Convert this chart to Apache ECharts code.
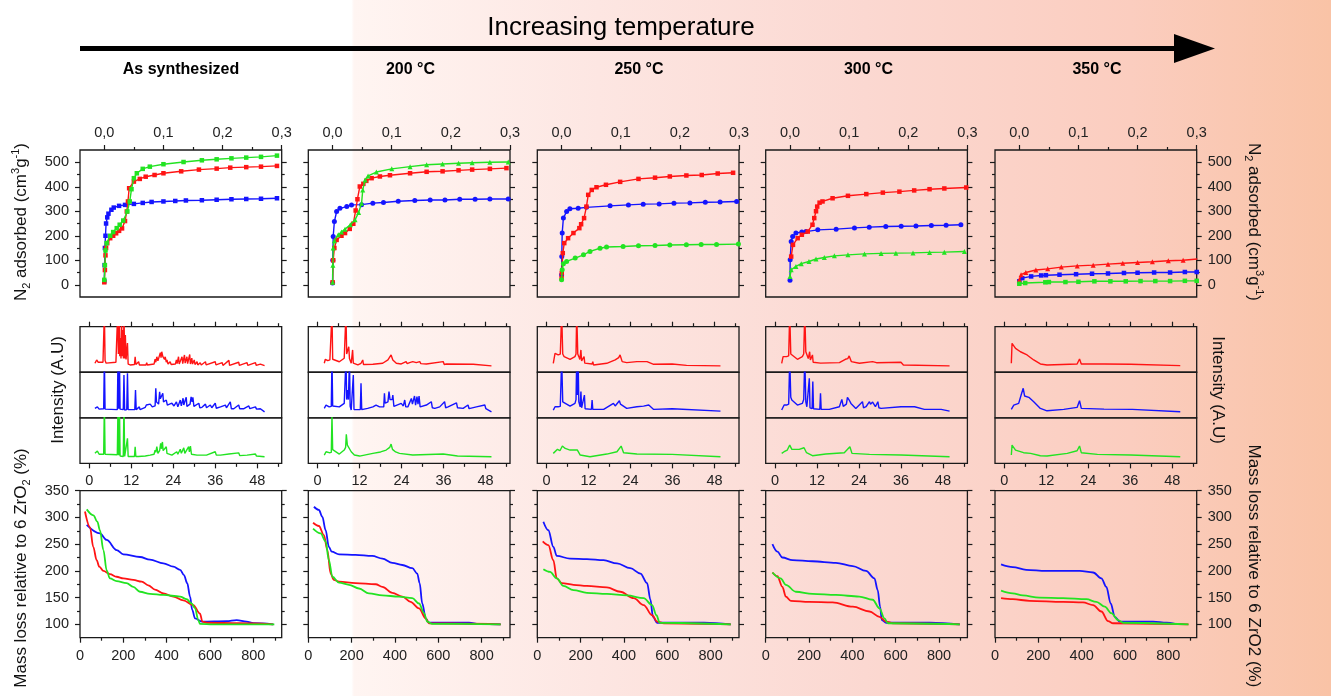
<!DOCTYPE html>
<html><head><meta charset="utf-8">
<script src="https://cdn.jsdelivr.net/npm/echarts@6/dist/echarts.min.js"></script>
<style>html,body{margin:0;padding:0;background:#fff}#c{width:1331px;height:696px}</style>
</head><body><div id="c"></div>
<script>
// ---------------- DATA ----------------
const columnTitles = ['As synthesized', '200 °C', '250 °C', '300 °C', '350 °C'];
const isoXTicks = [0, 0.1, 0.2, 0.3];
const isoXMinor = [0.05, 0.15, 0.25];
const isoYTicks = [0, 100, 200, 300, 400, 500];
const isoYMinor = [50, 150, 250, 350, 450];
const xrdTicks = [0, 12, 24, 36, 48];
const xrdMinor = [6, 18, 30, 42, 54];
const tgaXTicks = [0, 200, 400, 600, 800];
const tgaXMinor = [100, 300, 500, 700, 900];
const tgaYTicks = [100, 150, 200, 250, 300, 350];
const tgaYMinor = [125, 175, 225, 275, 325];

// N2 isotherms: [P/P0, volume] pairs
const isoRedAS = [0,10, 0.001,60, 0.002,120, 0.003,150, 0.005,170, 0.01,190, 0.015,200, 0.02,210, 0.025,220, 0.03,230, 0.035,260, 0.038,299, 0.04,340, 0.042,394, 0.05,421, 0.06,432, 0.07,441, 0.085,448, 0.1,455, 0.13,463, 0.16,470, 0.19,474, 0.213,478, 0.24,480, 0.265,482, 0.292,485];
const isoBlueAS = [0,14, 0.0005,80, 0.001,150, 0.002,200, 0.003,250, 0.005,275, 0.007,290, 0.012,306, 0.016,315, 0.025,322, 0.035,326, 0.05,330, 0.065,334, 0.08,338, 0.1,340, 0.12,342, 0.138,344, 0.165,345, 0.19,347, 0.215,349, 0.24,350, 0.265,351, 0.292,353];
const isoGreenAS = [0,20, 0.001,80, 0.002,140, 0.004,170, 0.01,200, 0.015,215, 0.021,231, 0.026,245, 0.032,262, 0.039,299, 0.043,340, 0.046,390, 0.05,435, 0.055,455, 0.065,473, 0.077,482, 0.1,492, 0.134,501, 0.165,508, 0.19,512, 0.215,516, 0.24,519, 0.265,522, 0.292,527];
const isoRed200 = [0,10, 0.001,100, 0.003,150, 0.0068,183, 0.015,200, 0.021,211, 0.029,228, 0.035,249, 0.039,303, 0.042,349, 0.046,401, 0.052,412, 0.057,424, 0.066,435, 0.08,442, 0.097,447, 0.131,455, 0.159,461, 0.186,463, 0.213,467, 0.236,470, 0.266,473, 0.294,476];
const isoBlue200 = [0,7, 0.0003,100, 0.001,197, 0.003,258, 0.0068,299, 0.0124,312, 0.024,319, 0.032,326, 0.049,327, 0.068,333, 0.086,336, 0.111,341, 0.139,344, 0.165,346, 0.19,346, 0.215,349, 0.241,349, 0.266,350, 0.297,350];
const isoGreen200 = [0,10, 0.0005,80, 0.001,150, 0.003,180, 0.0096,204, 0.015,215, 0.021,227, 0.03,245, 0.038,265, 0.044,295, 0.049,333, 0.051,387, 0.055,428, 0.06,444, 0.074,460, 0.1,473, 0.131,482, 0.159,490, 0.186,493, 0.213,496, 0.236,498, 0.266,500, 0.297,501];
const isoRed250 = [0,27, 0.0003,48, 0.002,129, 0.0045,170, 0.011,190, 0.02,211, 0.03,231, 0.033,247, 0.038,272, 0.042,319, 0.045,367, 0.051,387, 0.059,398, 0.075,408, 0.099,420, 0.13,432, 0.158,437, 0.183,442, 0.211,446, 0.237,448, 0.264,454, 0.29,457];
const isoBlue250 = [0,41, 0.0003,115, 0.001,211, 0.003,272, 0.0085,299, 0.014,310, 0.028,312, 0.042,316, 0.082,322, 0.113,326, 0.138,329, 0.165,330, 0.19,333, 0.217,334, 0.243,337, 0.268,338, 0.296,340];
const isoGreen250 = [0,20, 0.001,61, 0.003,86, 0.0085,95, 0.023,109, 0.037,122, 0.048,136, 0.065,149, 0.076,154, 0.104,156, 0.13,159, 0.158,160, 0.183,162, 0.211,163, 0.236,164, 0.262,164, 0.299,166];
const isoRed300 = [0.002,115, 0.005,163, 0.013,190, 0.02,204, 0.03,217, 0.038,245, 0.041,272, 0.044,300, 0.046,319, 0.05,335, 0.055,340, 0.072,353, 0.098,363, 0.129,370, 0.157,376, 0.185,380, 0.21,385, 0.236,390, 0.261,393, 0.298,397];
const isoBlue300 = [0,18, 0.0003,102, 0.002,177, 0.0045,197, 0.01,211, 0.02,215, 0.027,217, 0.047,224, 0.078,227, 0.109,232, 0.134,235, 0.162,238, 0.188,239, 0.213,240, 0.239,242, 0.264,243, 0.289,245];
const isoGreen300 = [0,34, 0.002,61, 0.01,75, 0.019,86, 0.032,95, 0.044,105, 0.058,111, 0.075,118, 0.098,122, 0.126,126, 0.154,128, 0.179,129, 0.208,130, 0.236,132, 0.261,133, 0.295,136];
const isoRed350 = [0,20, 0.003,41, 0.011,50, 0.028,60, 0.048,65, 0.071,72, 0.098,77, 0.125,80, 0.15,84, 0.175,88, 0.2,91, 0.225,94, 0.252,98, 0.277,100, 0.301,105];
const isoBlue350 = [0,14, 0.005,27, 0.02,34, 0.037,38, 0.045,39, 0.068,41, 0.096,43, 0.123,45, 0.15,46, 0.177,48, 0.2,49, 0.228,50, 0.255,50, 0.28,52, 0.3,52];
const isoGreen350 = [0,4, 0.01,7, 0.044,10, 0.05,11, 0.078,11, 0.1,12, 0.127,14, 0.154,14, 0.18,14, 0.205,15, 0.23,15, 0.255,15, 0.28,16, 0.3,16];

// XRD patterns: [2theta, intensity (% of sub-panel height)] pairs
const xrdRedAS = [1.6,19.7, 2.1,27, 2.5,22, 3.9,22, 4.1,26, 4.3,130, 4.5,26, 4.8,20, 7.6,22, 7.9,24, 8.1,130, 8.3,40, 8.5,130, 8.7,35, 8.9,75, 9.05,30, 9.2,130, 9.4,35, 9.6,93, 9.75,30, 9.9,130, 10.1,30, 10.3,82, 10.5,28, 10.9,64, 11.1,18, 11.7,16, 12.9,17, 13.1,34, 13.3,17, 14.1,23, 14.3,16, 16.2,16, 16.4,21, 16.6,16, 18.5,18, 18.8,29, 19.0,22, 19.3,34, 19.6,25, 20.0,28, 20.3,43, 20.5,32, 20.7,45, 21.0,35, 21.2,38, 21.5,28, 21.7,34, 22.0,22, 22.2,27, 22.5,18, 23.1,23, 23.4,17, 24.6,18, 24.9,27, 25.1,19, 25.5,34, 25.7,18, 26.2,19, 26.5,34, 26.7,19, 27.0,20, 27.2,38, 27.4,20, 27.7,20, 27.9,34, 28.1,19, 28.5,20, 28.7,39, 28.9,18, 29.3,31, 29.5,18, 30.0,27, 30.2,17, 30.8,23, 31.0,16, 31.7,21, 32,16, 33.2,23, 33.4,16, 36.0,23, 36.2,16, 38.0,21, 38.2,15, 39.9,26, 40.1,15, 42.7,22, 42.9,15, 45.1,21, 45.3,15, 47.5,21, 47.7,15, 48.9,18, 49.1,15, 50.1,14.6];
const xrdBlueAS = [1.6,20.6, 2.3,24, 2.8,19, 4.1,20, 4.3,130, 4.5,19, 5,18, 8.0,18, 8.2,130, 8.4,20, 8.6,130, 8.8,19, 9.0,18, 9.7,18, 9.9,94, 10.1,17, 10.7,18, 10.9,98, 11.1,18, 11.3,18, 13.0,18, 13.2,61, 13.4,18, 14.3,24, 14.5,18, 16.0,23, 16.3,28, 17.4,30, 18.0,24, 18.4,28, 18.8,26, 19.0,65, 19.2,35, 19.5,39, 19.8,30, 20.1,57, 20.3,42, 20.5,43, 20.8,40, 21.0,54, 21.2,35, 21.4,35, 22.0,39, 22.3,28, 22.7,28, 23.6,32, 24.2,26, 24.9,35, 25.3,24, 26.0,39, 26.3,26, 26.8,43, 27.0,28, 27.2,28, 27.7,45, 27.9,25, 28.4,24, 28.8,30, 29.1,46, 29.4,35, 29.6,45, 29.9,25, 30.3,24, 31.3,32, 31.6,22, 32.2,23, 33.2,30, 33.5,22, 34.6,28, 35,22, 36.0,32, 36.3,21, 37.5,24, 38.9,28, 39.2,22, 40.3,35, 40.6,20, 41.3,20, 42.7,28, 43,20, 44.2,20, 45.6,26, 45.9,20, 47.5,24, 47.8,19, 48.9,20, 50.1,13];
const xrdGreenAS = [1.6,22, 2.3,27, 2.8,20, 4.1,20, 4.3,130, 4.5,20, 5,19, 8.0,19, 8.2,130, 8.4,18, 8.6,130, 8.8,16, 9.1,15, 9.7,15, 9.9,130, 10.1,15, 10.3,15, 10.9,55, 11.1,15, 11.5,15, 12.9,15, 13.1,36.5, 13.3,15, 14,15, 16,16, 17.4,18, 18.5,20, 18.8,29, 19.0,24, 19.3,36.5, 19.6,22, 20.1,28, 20.4,44, 20.6,32, 20.9,47, 21.1,28, 21.4,25, 22.0,36.5, 22.2,22, 22.7,20, 23.6,18, 25.0,25.5, 25.3,20, 26.0,31, 26.3,22, 27.0,34, 27.3,22, 27.5,21, 28.4,36.5, 28.6,25, 28.9,38, 29.2,20, 29.6,20, 30.8,18, 33.5,18, 36.0,25.5, 36.3,18, 37.5,18, 39.9,20.4, 40.2,17, 42.7,23, 43,17, 45.1,18, 47.5,20.4, 47.8,16, 50.1,14.6];
const xrdRed200 = [1.9,19.7, 2.2,28.5, 2.9,25.5, 3.5,27, 3.9,25, 4.1,130, 4.3,28.5, 4.7,28.5, 6.2,23, 7.6,30.7, 7.9,32, 8.1,130, 8.3,40, 8.6,38, 8.9,56, 9.1,30, 9.6,19.7, 9.8,20, 10.0,49, 10.2,20, 10.5,19.7, 11.5,16, 12.4,19.7, 12.9,27, 13.1,17, 13.4,16, 15.8,17.5, 18.6,19.7, 20.1,27, 21.0,38, 21.5,27, 22.5,19.7, 23.9,18.2, 25.3,23.4, 25.6,19, 26.3,21.2, 27.2,23.4, 27.5,19.7, 28.2,21.2, 29.2,23.4, 29.5,19, 31.1,18.2, 35.9,23.4, 36.2,17, 36.8,18.2, 44.5,17.5, 49.7,14];
const xrdBlue200 = [1.9,20.6, 2.4,28, 3.3,24, 3.9,25, 4.1,130, 4.3,26, 4.8,28, 6.2,24, 7.6,31.6, 7.9,30, 8.1,130, 8.3,40, 8.6,61, 8.8,40, 9.1,130, 9.3,25, 9.6,17, 10.0,17, 10.2,94, 10.4,18, 10.8,17, 12.2,18, 12.4,75.7, 12.6,18, 12.9,18.4, 14.3,20.6, 15.8,24, 16.7,28, 17.7,24, 18.9,24, 19.1,53.7, 19.3,32, 19.6,31.6, 20.1,35, 20.4,57.4, 20.7,40, 21.0,42.6, 21.3,40, 21.5,50, 21.8,25, 22.3,24, 23.9,31.6, 24.5,26, 24.9,39, 25.2,24, 25.8,24, 26.8,42.6, 27.1,30, 27.7,47.8, 28.0,28, 28.4,46.3, 28.7,30, 29.0,47.8, 29.3,24, 29.6,24, 31.1,28, 32.5,35.3, 32.8,22, 33.5,20.6, 34.9,24, 36.3,35.3, 36.6,22, 37.3,24, 39.7,33, 40,22, 41.6,20.6, 43.0,28, 43.3,20, 45.4,24, 47.8,28, 48.1,20, 49.7,13.2];
const xrdGreen200 = [1.9,18.2, 2.4,25.5, 3.3,23.4, 3.9,24, 4.1,105, 4.3,30, 4.7,29.2, 6.2,20.4, 7.6,29.2, 8.0,35, 8.2,64, 8.5,40, 8.9,36.5, 9.6,25.5, 10.0,29.2, 10.5,18.2, 12,16, 15.8,21.9, 18,25, 19.6,29.2, 20.6,35, 21.0,42.3, 21.4,30.7, 22.3,25, 23.4,21.9, 27.2,18.2, 35.9,20.4, 36.2,16.8, 40,16, 49.7,14.6];
const xrdRed250 = [1.9,19.7, 2.4,41.6, 3.3,38, 3.9,40, 4.3,130, 4.6,40, 5.0,34.3, 6.7,28.5, 8.1,34.3, 8.4,40, 8.6,130, 8.9,40, 9.2,34.3, 9.5,28, 9.8,49, 10.0,25, 10.1,27, 10.5,25, 10.7,34.3, 10.9,20, 11.2,18.2, 13.0,18, 13.2,23.4, 13.4,16, 17.2,19.7, 19.6,27, 20.6,32, 21.0,38, 21.6,23.4, 22.9,21.2, 25.8,23.4, 28.7,23.4, 30.6,17.5, 35.9,18, 36.1,21.2, 36.4,16, 40,15, 49.7,13.9];
const xrdBlue250 = [1.9,17, 2.4,24.3, 3.3,24.3, 3.9,25, 4.3,130, 4.6,35, 5.0,31.6, 6.7,25.7, 8.1,31.6, 8.4,40, 8.6,130, 8.8,50, 9.0,130, 9.2,35, 9.4,31.6, 9.6,24, 9.8,57.4, 10.0,22, 10.2,24.3, 10.5,22, 10.8,50, 11.0,20, 11.3,20.6, 12.8,18.4, 13.0,39, 13.2,18.4, 16.3,18.4, 19.1,31.6, 19.6,26, 20.1,24.3, 20.8,37.5, 21.1,30, 21.5,28, 22.9,20.6, 25.8,24.3, 27.7,25.7, 29.2,28, 30.6,18.4, 35.9,20, 36.1,22, 36.4,17, 49.7,14.7];
const xrdGreen250 = [1.9,21.9, 3.1,30.7, 3.8,27.7, 4.5,38, 5.3,32.8, 6.7,29.2, 8.1,29.2, 8.8,29.2, 9.6,18.2, 12.4,14.6, 17.2,20.4, 20.1,25.5, 21.3,38, 22.0,23.4, 25.8,20.4, 35.9,19.7, 36.3,16.8, 49.7,14.6];
const xrdRed300 = [1.9,19.7, 2.3,34.3, 3.3,34.3, 3.9,36, 4.2,130, 4.5,40, 4.8,35.8, 6.4,28.5, 7.8,34.3, 8.2,40, 8.5,130, 8.8,45, 9.1,41.6, 9.5,30, 9.9,45, 10.1,27, 10.3,27, 10.7,38, 10.9,22, 11.2,19.7, 13.0,20, 13.1,23.4, 13.3,16, 18.4,21.2, 20.1,28.5, 20.8,30, 21.2,35.8, 21.8,23.4, 24.1,19.7, 27.9,23.4, 29.0,21, 36.0,22, 36.2,23, 36.7,16, 49.9,13.9];
const xrdBlue300 = [1.9,17, 2.6,28, 3.3,28, 3.9,30, 4.2,130, 4.5,45, 4.8,39, 6.4,28, 7.8,31.6, 8.2,40, 8.5,130, 8.8,35, 9.1,24.3, 9.6,22, 9.8,86.8, 10.0,22, 10.1,20.6, 10.6,20, 10.8,79.4, 11.0,20, 11.3,18.4, 12.8,18.4, 13.0,53.7, 13.2,18.4, 15.5,18.4, 18.4,24.3, 19.1,40.4, 19.5,25, 19.8,24.3, 20.4,30, 20.7,44.9, 21.2,39, 21.7,31.6, 23.1,20.6, 25.0,35.3, 25.3,22, 26.0,24.3, 27.0,35.3, 27.3,30, 27.9,34.6, 28.7,24.3, 29.4,35.3, 29.7,22, 30.3,20.6, 36.0,24.3, 39.9,24.3, 42.7,18.4, 47.5,18.4, 49.9,14.7];
const xrdGreen300 = [1.9,21.9, 2.6,25.5, 3.5,29.2, 4.2,40.1, 4.8,30.7, 6.9,30.7, 8.3,34.3, 9.0,23.4, 10.7,16.8, 14.5,20.4, 19.8,23.4, 21.4,36.5, 22.0,21.9, 27.0,19.7, 36.0,18.2, 36.5,16, 49.9,14.6];
const xrdRed350 = [2.0,19.7, 2.2,63.5, 3.2,52.5, 4.6,45, 6.5,38, 8.4,27, 10.3,18.2, 12.2,16, 20.8,18, 21.5,29, 22.0,18, 28.5,18, 36.1,17.5, 36.6,15, 50.3,14.6];
const xrdBlue350 = [2.0,18.4, 2.7,28, 4.1,31.6, 4.8,50, 5.4,64.7, 5.8,47.8, 7.0,44.9, 8.4,35.3, 10.3,20.6, 12.2,15.4, 17.0,18.4, 20.8,22.8, 21.5,37.5, 22.0,20.6, 28.5,19.1, 36.6,18.4, 50.3,13.2];
const xrdGreen350 = [2.0,18.2, 2.2,40.1, 3.2,29.2, 5.5,23.4, 7.5,21.9, 10.3,16.8, 12.2,16, 18.0,21.9, 20.8,27.7, 21.5,38, 22.0,23.4, 26.6,19.7, 36.1,18.2, 36.6,16.8, 50.3,14.6];

// TGA: [temperature, mass % relative to 6 ZrO2] pairs
const tgaRedAS = [23,311, 46,282, 61,245, 77,220, 89,208, 108,200, 138,194, 169,189, 200,186, 246,183, 285,180, 315,173, 346,165, 385,158, 431,152, 477,145, 523,136, 554,120, 565,105, 585,103, 738,102, 892,100];
const tgaBlueAS = [31,286, 92,270, 123,258, 169,239, 200,231, 277,226, 323,221, 385,214, 431,208, 462,202, 480,192, 495,177, 508,152, 518,127, 531,111, 562,105, 677,106, 723,108, 769,105, 800,102, 892,100];
const tgaGreenAS = [31,315, 62,304, 80,292, 92,276, 108,239, 123,201, 138,186, 169,181, 215,177, 246,170, 277,161, 323,157, 385,155, 462,152, 492,147, 515,139, 531,130, 546,108, 554,101, 615,100, 897,100];
const tgaRed200 = [22,290, 49,284, 72,267, 88,239, 103,195, 118,183, 142,180, 218,177, 311,175, 342,170, 388,159, 434,152, 472,142, 511,130, 542,111, 557,102, 888,100];
const tgaBlue200 = [26,320, 49,314, 65,301, 80,276, 95,245, 108,236, 142,231, 218,230, 295,228, 342,223, 388,215, 434,211, 480,205, 503,195, 514,177, 526,139, 542,111, 557,103, 742,103, 788,101, 888,100];
const tgaGreen200 = [22,279, 57,270, 80,255, 95,220, 111,189, 142,178, 188,174, 234,167, 280,158, 342,154, 418,152, 480,149, 511,139, 534,121, 549,105, 572,101, 888,100];
const tgaRed250 = [25,255, 51,248, 74,220, 90,186, 113,177, 167,174, 229,172, 321,169, 383,161, 445,149, 491,136, 530,117, 553,105, 584,102, 893,100];
const tgaBlue250 = [28,292, 51,276, 74,245, 90,228, 151,223, 229,222, 306,220, 368,214, 429,205, 476,195, 507,177, 522,146, 534,114, 553,103, 769,103, 893,100];
const tgaGreen250 = [28,203, 59,198, 90,186, 120,172, 167,164, 229,159, 321,157, 414,154, 491,149, 530,136, 550,117, 565,103, 893,100];
const tgaRed300 = [31,197, 54,190, 77,170, 93,152, 116,144, 201,142, 309,141, 402,133, 479,124, 525,114, 556,105, 587,102, 896,100];
const tgaBlue300 = [31,250, 54,236, 77,225, 124,220, 216,218, 324,215, 402,209, 463,200, 502,186, 517,164, 528,133, 536,108, 556,103, 757,103, 896,100];
const tgaGreen300 = [31,197, 69,186, 93,174, 139,161, 216,157, 324,155, 432,152, 494,146, 525,130, 548,111, 564,102, 896,100];
const tgaRed350 = [28,149, 82,147, 159,144, 314,142, 406,141, 453,136, 491,124, 522,106, 545,102, 893,100];
const tgaBlue350 = [28,212, 82,207, 144,202, 236,200, 391,200, 453,197, 491,186, 514,170, 534,139, 553,114, 576,105, 730,105, 792,103, 831,101];
const tgaGreen350 = [28,163, 82,158, 128,154, 205,150, 314,149, 422,147, 468,142, 507,133, 537,121, 568,108, 592,103, 893,100];

// ---------------- LAYOUT / STYLE ----------------
const F = "'Liberation Sans', Arial, Helvetica, sans-serif";
const RED = '#ff1414', BLUE = '#1414ff', GREEN = '#22e322';
const colLeft = [80, 308.3, 537.3, 765.7, 995];
const W = 201.7;
const isoTop = 150, isoH = 147;
const xrdTop = 326.7, xrdH = 45.55;
const tgaTop = 490.7, tgaH = 147;
const AX = '#1a1a1a';

const isoSets = [[isoBlueAS, isoRedAS, isoGreenAS],[isoBlue200, isoRed200, isoGreen200],[isoBlue250, isoRed250, isoGreen250],[isoBlue300, isoRed300, isoGreen300],[isoBlue350, isoRed350, isoGreen350]];
const isoSyms = [['rect','rect','rect'],['circle','rect','triangle'],['circle','rect','circle'],['circle','rect','triangle'],['rect','triangle','rect']];
const xrdSets = [[xrdRedAS, xrdBlueAS, xrdGreenAS],[xrdRed200, xrdBlue200, xrdGreen200],[xrdRed250, xrdBlue250, xrdGreen250],[xrdRed300, xrdBlue300, xrdGreen300],[xrdRed350, xrdBlue350, xrdGreen350]];
const tgaSets = [[tgaBlueAS, tgaRedAS, tgaGreenAS],[tgaBlue200, tgaRed200, tgaGreen200],[tgaBlue250, tgaRed250, tgaGreen250],[tgaBlue300, tgaRed300, tgaGreen300],[tgaBlue350, tgaRed350, tgaGreen350]];

function P(a){ const r=[]; for(let i=0;i<a.length;i+=2) r.push([a[i],a[i+1]]); return r; }

const grids=[], xAxes=[], yAxes=[], series=[];
function addGrid(left, top, h){
  grids.push({left:left, top:top, width:W, height:h, show:true, borderColor:AX, borderWidth:1.3,
    backgroundColor:'transparent', containLabel:false, outerBoundsMode:'none'});
  return grids.length-1;
}
function tickAxis(kind, gi, pos, min, max, vals, len, labels, lab){
  const ax = {gridIndex:gi, type:'value', position:pos, min:min, max:max,
    axisLine:{show:false, onZero:false}, splitLine:{show:false},
    axisTick:{show:true, inside:false, customValues:vals, length:len, lineStyle:{color:AX, width:1.2}},
    axisLabel: labels ? Object.assign({show:true, customValues:vals, color:'#222', fontSize:14.5, fontFamily:F}, lab||{}) : {show:false}
  };
  const arr = kind==='x'?xAxes:yAxes; arr.push(ax); return arr.length-1;
}
function hiddenAxis(kind, gi, min, max){
  const arr = kind==='x'?xAxes:yAxes;
  arr.push({gridIndex:gi, type:'value', show:false, min:min, max:max, axisLine:{onZero:false}, splitLine:{show:false}});
  return arr.length-1;
}
const isoColors=[BLUE, RED, GREEN];
const xrdColors=[RED, BLUE, GREEN];

for(let c=0;c<5;c++){
  const L = colLeft[c];
  // isotherm
  let gi = addGrid(L, isoTop, isoH);
  let xa = tickAxis('x', gi, 'top', -0.0411, 0.3, isoXTicks, 5, true, {margin:10, formatter:v=>v.toFixed(1).replace('.', ',')});
  tickAxis('x', gi, 'top', -0.0411, 0.3, isoXMinor, 3, false);
  let ya = tickAxis('y', gi, 'left', -50, 550, isoYTicks, 5, c===0, {margin:11});
  tickAxis('y', gi, 'left', -50, 550, isoYMinor, 3, false);
  tickAxis('y', gi, 'right', -50, 550, isoYTicks, 5, c===4, {margin:11});
  tickAxis('y', gi, 'right', -50, 550, isoYMinor, 3, false);
  isoSets[c].forEach((d,k)=>{
    series.push({type:'line', xAxisIndex:xa, yAxisIndex:ya, data:P(d), symbol:isoSyms[c][k],
      symbolSize: isoSyms[c][k]==='rect'?4.5:5, showSymbol:true, clip:true,
      lineStyle:{color:isoColors[k], width:1.4}, itemStyle:{color:isoColors[k], borderWidth:0}, z:3+k});
  });
  // XRD (3 stacked)
  for(let i=0;i<3;i++){
    gi = addGrid(L, xrdTop + i*xrdH, xrdH);
    if(i===0){
      xa = tickAxis('x', gi, 'top', -2.67, 55, xrdTicks, 5, false);
      tickAxis('x', gi, 'top', -2.67, 55, xrdMinor, 3.5, false);
    } else if(i===2){
      xa = tickAxis('x', gi, 'bottom', -2.67, 55, xrdTicks, 5, true, {margin:10});
      tickAxis('x', gi, 'bottom', -2.67, 55, xrdMinor, 3.5, false);
    } else {
      xa = hiddenAxis('x', gi, -2.67, 55);
    }
    ya = hiddenAxis('y', gi, 0, 100);
    series.push({type:'line', xAxisIndex:xa, yAxisIndex:ya, data:P(xrdSets[c][i]), symbol:'none', clip:true,
      lineStyle:{color:xrdColors[i], width:1.4}, z:3});
  }
  // TGA
  gi = addGrid(L, tgaTop, tgaH);
  xa = tickAxis('x', gi, 'bottom', 0, 931, tgaXTicks, 5, true, {margin:11});
  tickAxis('x', gi, 'bottom', 0, 931, tgaXMinor, 3, false);
  ya = tickAxis('y', gi, 'left', 75, 350, tgaYTicks, 5, c===0, {margin:11});
  tickAxis('y', gi, 'left', 75, 350, tgaYMinor, 3, false);
  tickAxis('y', gi, 'right', 75, 350, tgaYTicks, 5, c===4, {margin:11});
  tickAxis('y', gi, 'right', 75, 350, tgaYMinor, 3, false);
  tgaSets[c].forEach((d,k)=>{
    series.push({type:'line', xAxisIndex:xa, yAxisIndex:ya, data:P(d), symbol:'none', smooth:0.35, smoothMonotone:'x', clip:true,
      lineStyle:{color:isoColors[k], width:1.8}, z:3+k});
  });
}

// ---------------- GRAPHICS (background, arrow, titles) ----------------
const graphics = [];
graphics.push({type:'rect', z:-100, silent:true, shape:{x:0,y:0,width:1331,height:696},
  style:{fill:new echarts.graphic.LinearGradient(0,0,1,0,[
    {offset:0,color:'#ffffff'},{offset:0.264,color:'#ffffff'},{offset:0.266,color:'#fff5f2'},
    {offset:0.45,color:'#fde6e2'},{offset:0.65,color:'#fbd8d1'},{offset:0.85,color:'#fbcdbf'},{offset:1,color:'#f9c3a6'}])}});
graphics.push({type:'rect', z:10, shape:{x:80,y:46,width:1098,height:5}, style:{fill:'#000'}});
graphics.push({type:'polygon', z:10, shape:{points:[[1174,34],[1215,48.5],[1174,63]]}, style:{fill:'#000'}});
graphics.push({type:'text', z:10, x:621, y:28, style:{text:'Increasing temperature', fontSize:26, fontFamily:F, fill:'#000', align:'center', verticalAlign:'middle'}});
const colTitleX = [181, 410.5, 639, 868.5, 1097];
columnTitles.forEach((t,i)=>graphics.push({type:'text', z:10, x:colTitleX[i], y:70,
  style:{text:t, fontSize:16, fontWeight:'bold', fontFamily:F, fill:'#000', align:'center', verticalAlign:'middle'}}));

const rich = {
  n:{fontSize:17, fontFamily:F, fill:'#111', color:'#111', lineHeight:22},
  s:{fontSize:11, fontFamily:F, fill:'#111', color:'#111', verticalAlign:'bottom', lineHeight:22},
  p:{fontSize:11, fontFamily:F, fill:'#111', color:'#111', verticalAlign:'top', lineHeight:22}
};
function vtext(txt, x, y, rot){
  graphics.push({type:'text', z:10, x:x, y:y, rotation:rot,
    style:{text:txt, rich:rich, align:'center', verticalAlign:'middle', fontSize:17, fontFamily:F, fill:'#111'}});
}
vtext('{n|N}{s|2}{n| adsorbed (cm}{p|3}{n|g}{p|-1}{n|)}', 21, 222, Math.PI/2);
vtext('{n|Intensity (A.U)}', 58, 390, Math.PI/2);
vtext('{n|Mass loss relative to 6 ZrO}{s|2}{n| (%)}', 21, 568, Math.PI/2);
vtext('{n|N}{s|2}{n| adsorbed (cm}{p|3}{n|g}{p|-1}{n|)}', 1254, 222, -Math.PI/2);
vtext('{n|Intensity (A.U)}', 1218, 390, -Math.PI/2);
vtext('{n|Mass loss relative to 6 ZrO2 (%)}', 1254, 566, -Math.PI/2);

const chart = echarts.init(document.getElementById('c'), null, {renderer:'canvas', width:1331, height:696});
chart.setOption({
  animation:false,
  backgroundColor:'#ffffff',
  grid:grids, xAxis:xAxes, yAxis:yAxes, series:series, graphic:graphics
});
</script></body></html>
